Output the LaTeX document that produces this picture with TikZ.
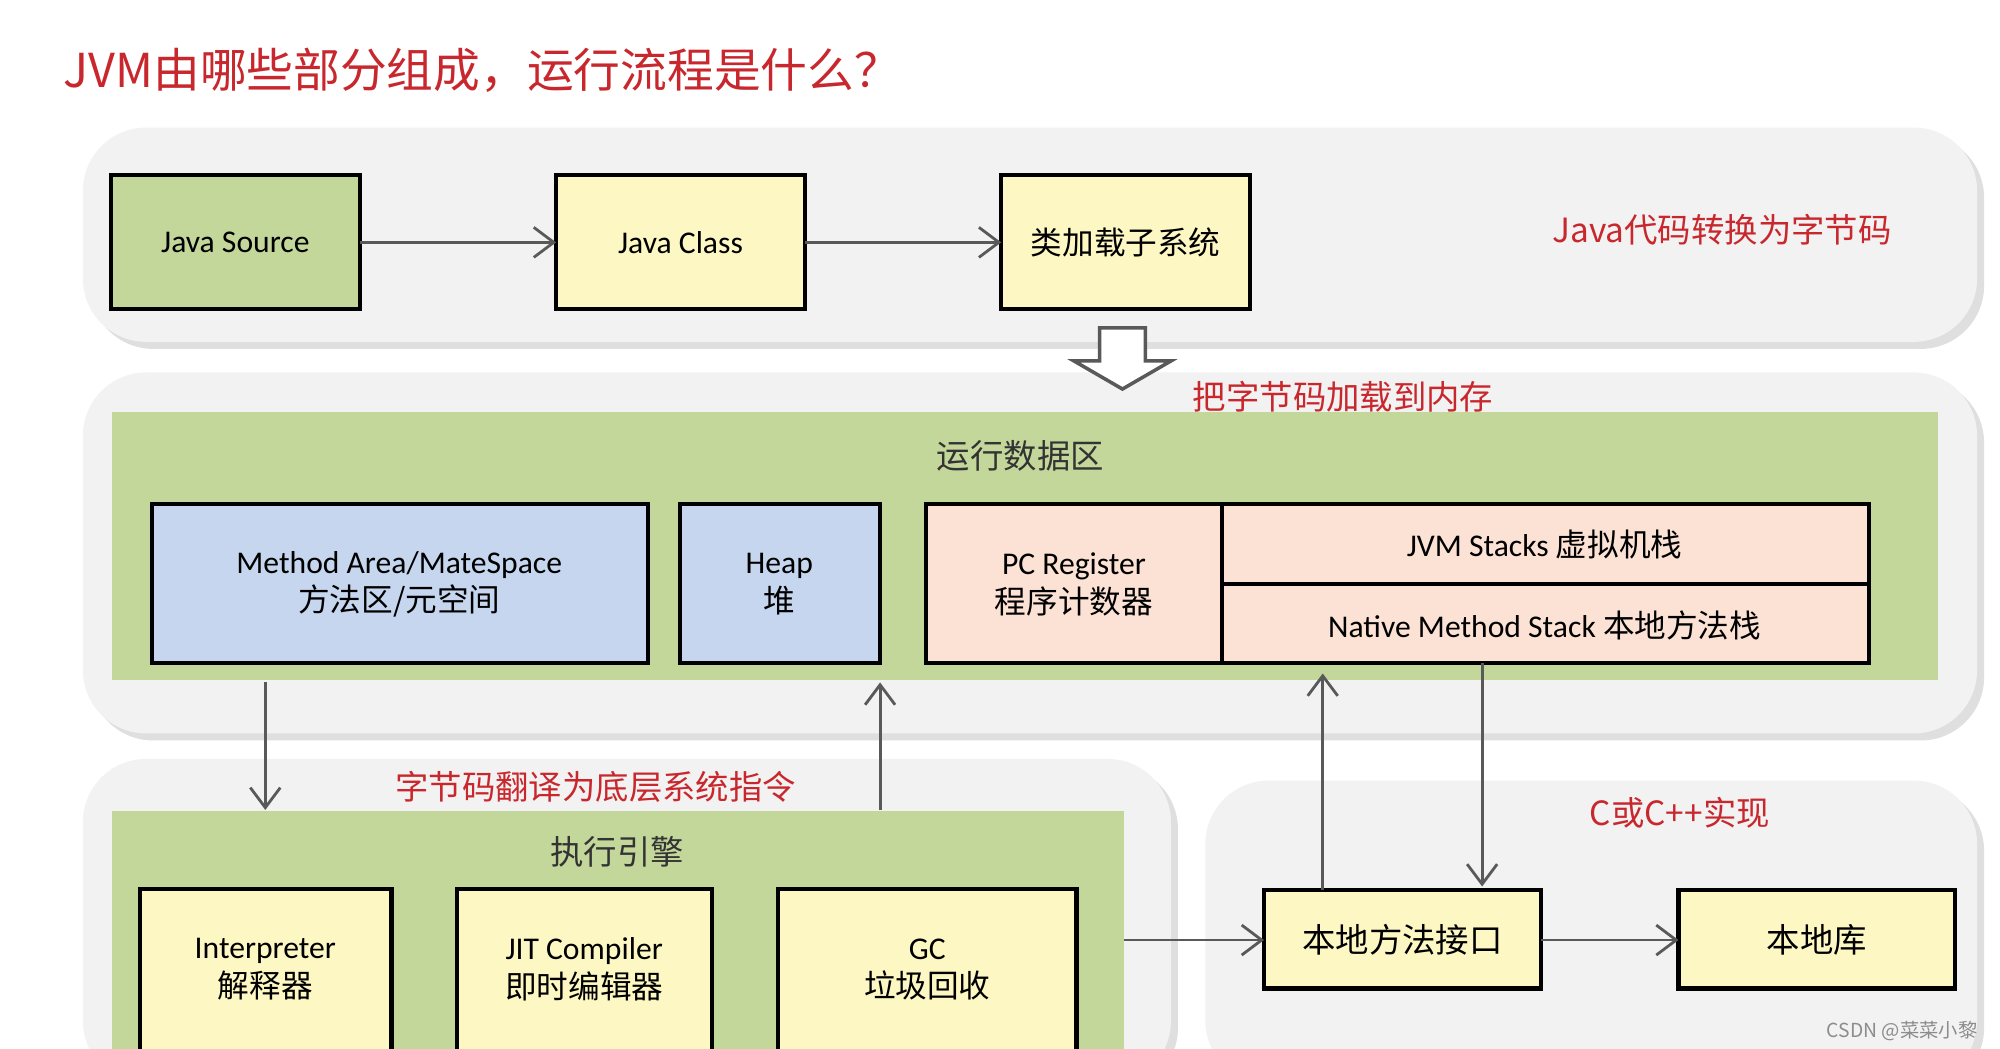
\documentclass[tikz,border=0pt]{standalone}
\usepackage{fontspec}
\setmainfont{Carlito}
\newfontfamily\cjk{Noto Sans CJK SC}
\usetikzlibrary{arrows.meta,shadows}
\definecolor{redt}{HTML}{C8282D}
\definecolor{panel}{HTML}{F2F2F2}
\definecolor{grn}{HTML}{C4D79B}
\definecolor{ylw}{HTML}{FDF7C3}
\definecolor{blu}{HTML}{C6D6EE}
\definecolor{pnk}{HTML}{FBE2D5}
\definecolor{arr}{HTML}{595959}
\begin{document}
\begin{tikzpicture}[x=0.012755cm,y=-0.012755cm,
  panelS/.style={fill=panel,draw=none,rounded corners=18pt,drop shadow={opacity=0.25,shadow xshift=2pt,shadow yshift=-2pt}},
  box/.style={draw=black,line width=1.2pt},
  txt/.style={align=center,font=\fontsize{9}{11}\selectfont},
  lab/.style={text=redt,font=\cjk\fontsize{9.5}{11}\selectfont},
  hd/.style={text=black!80,font=\cjk\fontsize{9.5}{11}\selectfont},
  ar/.style={draw=arr,line width=0.8pt,-{Straight Barb[length=2mm,width=3mm]}}]
\useasboundingbox (0,0) rectangle (1568,822);
\fill[white] (0,0) rectangle (1568,822);
\node[text=redt,font=\cjk\fontsize{13.3}{16}\selectfont,anchor=west] (title) at (40,55) {JVM由哪些部分组成，运行流程是什么？};
% panels
\path[panelS] (65,100) rectangle (1550,268);
\path[panelS] (65,292) rectangle (1550,575);
\path[panelS] (65,595) rectangle (918,850);
\path[panelS] (945,612) rectangle (1550,850);
% row 1
\path[box,fill=grn] (87,137) rectangle (282,242);
\path[box,fill=ylw] (436,137) rectangle (631,242);
\path[box,fill=ylw] (785,137) rectangle (980,242);
\node[txt] (jsrc) at (184.5,190) {Java Source};
\node[txt] (jcls) at (533.5,190) {Java Class};
\node[txt,font=\cjk\fontsize{9}{11}\selectfont] (cls) at (882.5,190) {类加载子系统};
\coordinate (a1) at (282,190); \coordinate (b1) at (436,190);
\coordinate (a2) at (631,190); \coordinate (b2) at (785,190);
\draw[ar] (a1) -- (b1);
\draw[ar] (a2) -- (b2);
\node[lab] (l1) at (1350,180) {Java代码转换为字节码};
\draw[arr,fill=white,line width=1pt] (862,257) -- (898,257) -- (898,283) -- (918,283) -- (880,305) -- (842,283) -- (862,283) -- cycle;
\node[lab] (l2) at (1053,311) {把字节码加载到内存};
% runtime data area
\fill[grn] (88,323) rectangle (1519,533);
\node[hd] (rda) at (800,357) {运行数据区};
\path[box,fill=blu] (119,395) rectangle (508,520);
\path[box,fill=blu] (533,395) rectangle (690,520);
\path[box,fill=pnk] (726,395) rectangle (958,520);
\path[box,fill=pnk] (958,395) rectangle (1465,458);
\path[box,fill=pnk] (958,458) rectangle (1465,520);
\node[txt] (ma) at (313,458) {Method Area/MateSpace\\{\cjk 方法区/元空间}};
\node[txt] (heap) at (611,458) {Heap\\{\cjk 堆}};
\node[txt] (pc) at (842,458) {PC Register\\{\cjk 程序计数器}};
\node[txt] (jvms) at (1211,427) {JVM Stacks {\cjk 虚拟机栈}};
\node[txt] (nms) at (1211,490) {Native Method Stack {\cjk 本地方法栈}};
% execution engine
\node[lab] (l3) at (467,617) {字节码翻译为底层系统指令};
\fill[grn] (88,636) rectangle (881,830);
\node[hd] (ee) at (484,668) {执行引擎};
\path[box,fill=ylw] (110,697) rectangle (307,830);
\path[box,fill=ylw] (358,697) rectangle (558,830);
\path[box,fill=ylw] (610,697) rectangle (844,830);
\node[txt] (itp) at (208,760) {Interpreter\\{\cjk 解释器}};
\node[txt] (jit) at (458,760) {JIT Compiler\\{\cjk 即时编辑器}};
\node[txt] (gc) at (727,760) {GC\\{\cjk 垃圾回收}};
% native
\node[lab] (l4) at (1317,637) {C或C++实现};
\path[box,fill=ylw] (991,698) rectangle (1208,775);
\path[box,fill=ylw] (1316,698) rectangle (1533,775);
\node[font=\cjk\fontsize{9.5}{11}\selectfont] (jni) at (1099.5,737) {本地方法接口};
\node[font=\cjk\fontsize{9.5}{11}\selectfont] (lib) at (1424.5,737) {本地库};
% connectors
\coordinate (c1) at (208,535); \coordinate (d1) at (208,635);
\coordinate (c2) at (690,635); \coordinate (d2) at (690,535);
\coordinate (c3) at (881,737); \coordinate (d3) at (991,737);
\coordinate (c4) at (1037,698); \coordinate (d4) at (1037,528);
\coordinate (c5) at (1162,520); \coordinate (d5) at (1162,695);
\coordinate (c6) at (1208,737); \coordinate (d6) at (1316,737);
\draw[ar] (c1) -- (d1);
\draw[ar] (c2) -- (d2);
\draw[ar] (c3) -- (d3);
\draw[ar] (c4) -- (d4);
\draw[ar] (c5) -- (d5);
\draw[ar] (c6) -- (d6);
\node[text=black!45,font=\cjk\fontsize{5.5}{6}\selectfont,anchor=east] (wm) at (1560,808) {CSDN @菜菜小黎};
\end{tikzpicture}
\end{document}
